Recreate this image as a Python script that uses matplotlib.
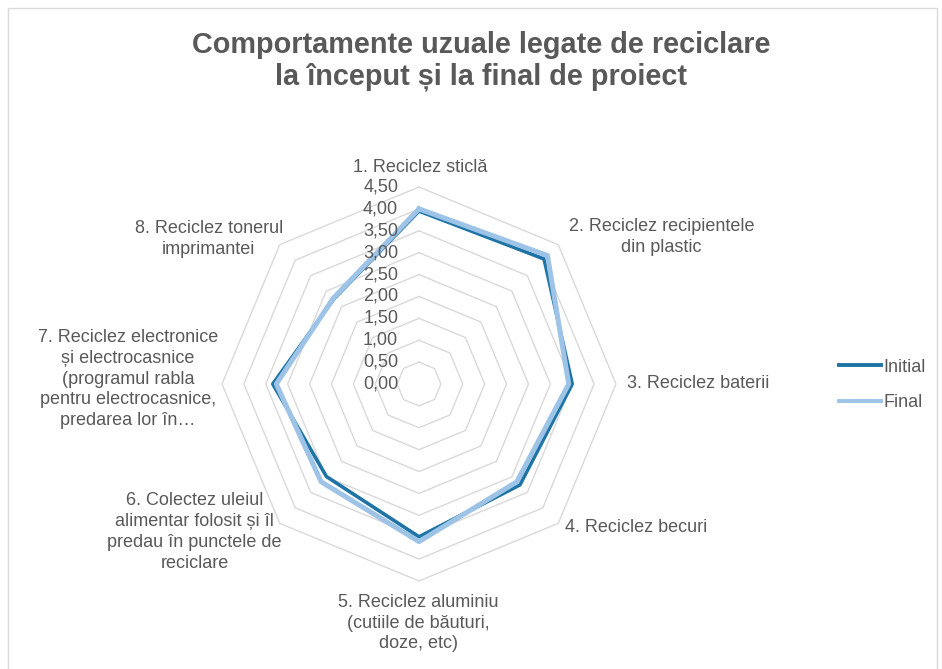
import numpy as np
import matplotlib
matplotlib.use('Agg')
import matplotlib.pyplot as plt
from matplotlib.patches import Rectangle

plt.rcParams['font.family'] = ['Liberation Sans', 'DejaVu Sans']

# Data
categories = [
    '1. Reciclez sticlă',
    '2. Reciclez recipientele\ndin plastic',
    '3. Reciclez baterii',
    '4. Reciclez becuri',
    '5. Reciclez aluminiu\n(cutiile de băuturi,\ndoze, etc)',
    '6. Colectez uleiul\nalimentar folosit și îl\npredau în punctele de\nreciclare',
    '7. Reciclez electronice\nși electrocasnice\n(programul rabla\npentru electrocasnice,\npredarea lor în…',
    '8. Reciclez tonerul\nimprimantei',
]
initial = [3.95, 4.04, 3.50, 3.26, 3.49, 2.99, 3.34, 2.75]
final = [4.00, 4.15, 3.42, 3.16, 3.60, 3.16, 3.26, 2.77]
r_ticks = [0.0, 0.5, 1.0, 1.5, 2.0, 2.5, 3.0, 3.5, 4.0, 4.5]
r_tick_labels = [f'{v:.2f}'.replace('.', ',') for v in r_ticks]

TXT = '#595959'
GRID = '#D9D9D9'
C_INIT = '#1F74A6'
C_FINAL = '#9DC3E6'

fig = plt.figure(figsize=(9.42, 6.69), dpi=100)
fig.patches.append(Rectangle((8 / 942, -0.1), 929 / 942, 1.1 - 8 / 669,
                             transform=fig.transFigure, fill=False,
                             edgecolor=GRID, linewidth=1.0))

# polar axes centred at (419, 384) px, radius 197 px
cx, cy, R = 419 / 942, 1 - 384 / 669, 197
ax = fig.add_axes([cx - R / 942, cy - R / 669, 2 * R / 942, 2 * R / 669],
                  projection='polar')
ax.set_theta_zero_location('N')
ax.set_theta_direction(-1)
ax.set_ylim(0, 4.5)
ax.axis('off')

n = len(categories)
angles = np.linspace(0, 2 * np.pi, n, endpoint=False)
closed = np.append(angles, angles[0])

# octagon grid
for r in r_ticks[1:]:
    ax.plot(closed, [r] * (n + 1), color=GRID, linewidth=1.0, zorder=1,
            clip_on=False)

ax.plot(closed, initial + initial[:1], color=C_INIT, linewidth=2.6,
        label='Initial', zorder=3, clip_on=False)
ax.plot(closed, final + final[:1], color=C_FINAL, linewidth=3.6,
        label='Final', zorder=4, clip_on=False)

# radial value labels
for r, lab in zip(r_ticks, r_tick_labels):
    ax.annotate(lab, xy=(0, r), xytext=(-15, 0), textcoords='offset points',
                ha='right', va='center', fontsize=13, color=TXT, zorder=5)

# category labels: (ha, dx px, dy px) relative to outer vertex
label_pos = [
    ('center', 1, 20),
    ('center', 103, 8),
    ('left', 11, 1),
    ('left', 7, -4),
    ('center', -1, -42),
    ('center', -85, -9),
    ('center', -94, 5),
    ('center', -71, 6),
]
for a, lab, (ha, dx, dy) in zip(angles, categories, label_pos):
    ax.annotate(lab, xy=(a, 4.5), xytext=(dx * 0.72, dy * 0.72),
                textcoords='offset points', ha=ha, va='center',
                multialignment='center', fontsize=13, color=TXT,
                linespacing=1.3, annotation_clip=False)

fig.text(481 / 942, 1 - 61 / 669,
         'Comportamente uzuale legate de reciclare\nla început și la final de proiect',
         ha='center', va='center', fontsize=20.8, fontweight='bold', color=TXT,
         linespacing=1.15)

leg = fig.legend(loc='center left', bbox_to_anchor=(839 / 942, 1 - 385 / 669),
                 frameon=False, fontsize=13, handlelength=2.3,
                 handletextpad=0.15, labelspacing=1.05, borderpad=0,
                 borderaxespad=0)
for t in leg.get_texts():
    t.set_color(TXT)
for h in leg.get_lines():
    h.set_linewidth(2.8)

fig.savefig('out.png', dpi=100)
